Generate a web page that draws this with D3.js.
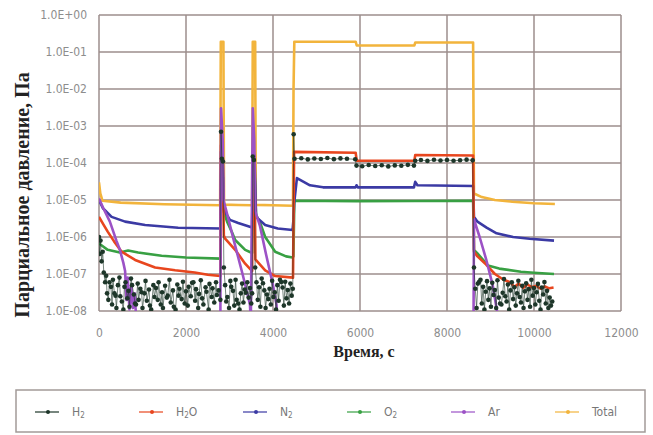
<!DOCTYPE html>
<html>
<head>
<meta charset="utf-8">
<script src="https://cdn.jsdelivr.net/npm/d3@7"></script>
<style>
  body { margin: 0; background: #fff; }
  svg { display: block; }
</style>
</head>
<body>
<svg id="chart" width="653" height="435"></svg>
<script>
// axis ticks
const xTicks = [0, 2000, 4000, 6000, 8000, 10000, 12000];
const yTicks = [1, 1e-1, 1e-2, 1e-3, 1e-4, 1e-5, 1e-6, 1e-7, 1e-8];
const yTickLabels = ["1.0E+00", "1.0E-01", "1.0E-02", "1.0E-03", "1.0E-04", "1.0E-05", "1.0E-06", "1.0E-07", "1.0E-08"];

// [time s, pressure Pa] (values under 1e-8 fall off the plot)
const totalData = [[0, 3e-5], [30, 1.5e-5], [80, 9.5e-6], [500, 8.5e-6], [1500, 7.7e-6], [2785, 7.2e-6],
  [2800, 0.19], [2860, 0.19], [2875, 7.5e-6], [3200, 7.3e-6], [3520, 7.2e-6],
  [3535, 0.19], [3590, 0.19], [3605, 7.4e-6], [4000, 7.2e-6], [4460, 7e-6],
  [4472, 1e-2], [4490, 0.19], [5900, 0.19], [5925, 0.15], [7250, 0.15], [7270, 0.18], [8600, 0.18],
  [8620, 1.5e-5], [8800, 1.2e-5], [9100, 1e-5], [9500, 9e-6], [10000, 8.2e-6], [10480, 7.8e-6]];

const h2oData = [[0, 3.5e-6], [100, 2.2e-6], [200, 1.4e-6], [350, 7.5e-7], [520, 4e-7], [830, 2.4e-7], [1290, 1.5e-7],
  [1750, 1.26e-7], [2200, 1.1e-7], [2500, 9.5e-8], [2790, 8.8e-8],
  [2805, 3e-4], [2840, 1.8e-4], [2870, 1.1e-6], [2900, 9e-7], [3130, 4.5e-7], [3360, 1.9e-7], [3520, 1.2e-7],
  [3540, 2e-4], [3575, 1.5e-4], [3595, 2.5e-7], [3820, 1.26e-7], [4050, 8.8e-8], [4460, 8e-8],
  [4485, 2e-4], [5900, 1.9e-4], [5925, 1.15e-4], [7250, 1.15e-4], [7270, 1.65e-4], [8600, 1.6e-4],
  [8620, 4e-7], [8700, 3e-7], [8900, 1.8e-7], [9100, 1e-7], [9300, 7e-8], [9450, 6e-8], [9550, 4.5e-8],
  [9650, 5.5e-8], [9750, 4.2e-8], [9850, 5.2e-8], [9950, 4.4e-8], [10050, 4.8e-8], [10150, 4e-8],
  [10250, 4.6e-8], [10350, 4.1e-8], [10450, 4.3e-8]];

const n2Data = [[0, 1e-5], [90, 6e-6], [290, 3.5e-6], [600, 2.6e-6], [1060, 2.1e-6], [1820, 1.78e-6], [2790, 1.7e-6],
  [2805, 2e-4], [2840, 1.5e-4], [2870, 5.4e-6], [3010, 2.9e-6], [3200, 2.4e-6], [3520, 1.8e-6],
  [3540, 2e-4], [3575, 1.5e-4], [3610, 3.5e-6], [3820, 2.1e-6], [4110, 1.7e-6], [4450, 1.55e-6],
  [4470, 2.9e-6], [4485, 8e-6], [4550, 3.9e-5], [4850, 2.5e-5], [5150, 2.2e-5], [5900, 2.2e-5], [5920, 2.5e-5],
  [5950, 2.2e-5], [7240, 2.2e-5], [7270, 3.1e-5], [7320, 2.5e-5], [8600, 2.4e-5],
  [8620, 3.5e-6], [8700, 2.6e-6], [8910, 1.8e-6], [9140, 1.26e-6], [9520, 1e-6], [9900, 9e-7], [10460, 8e-7]];

const o2Data = [[0, 6.7e-7], [200, 4.5e-7], [480, 3.8e-7], [670, 4.3e-7], [900, 3.8e-7], [1440, 3.1e-7], [2000, 2.8e-7], [2790, 2.6e-7],
  [2805, 5e-5], [2850, 4e-5], [2870, 4.8e-6], [2950, 2.5e-6], [3050, 1.4e-6], [3130, 8.3e-7], [3360, 4.5e-7], [3520, 3.7e-7],
  [3540, 5e-5], [3580, 4e-5], [3610, 4e-6], [3700, 2.5e-6], [3820, 1e-6], [3950, 6e-7], [4050, 4e-7], [4300, 3e-7], [4450, 2.8e-7],
  [4470, 3e-7], [4490, 9.5e-6], [5920, 9.3e-6], [7260, 9.4e-6], [8600, 9.5e-6],
  [8620, 4.5e-7], [8700, 3.6e-7], [8940, 1.7e-7], [9200, 1.4e-7], [9700, 1.15e-7], [10000, 1.08e-7], [10460, 1e-7]];

const arData = [[0, 1.1e-5], [100, 6e-6], [250, 2.6e-6], [400, 8e-7], [480, 4.5e-7], [560, 2e-7], [600, 1.2e-7],
  [630, 2e-8], [660, 8e-8], [700, 1.1e-8], [740, 5e-8], [780, 1.2e-8], [820, 3e-8], [860, 5e-9], [2790, 5e-9],
  [2805, 3e-3], [2845, 4e-4], [2862, 1e-5], [2950, 4e-6], [3100, 8e-7], [3300, 1e-7], [3470, 1.5e-8], [3490, 5e-9],
  [3535, 3e-3], [3570, 4e-4], [3590, 5e-6], [3700, 2e-6], [3850, 3e-7], [4000, 5e-8], [4080, 1.5e-8], [4100, 5e-9],
  [8610, 5e-9], [8620, 3e-6], [8750, 1e-6], [8900, 2.5e-7], [9050, 5e-8], [9150, 1e-8], [9170, 5e-9]];

const h2Data = [[0, 1e-6], [15, 3.5e-7], [35, 8e-7], [60, 2.2e-7], [85, 4e-7], [110, 1.1e-7], [140, 6e-8], [165, 9e-8],
  [185, 3e-8], [215, 2e-8], [240, 6e-8], [275, 4.5e-8], [300, 1.5e-8], [320, 7e-8], [355, 3e-8], [380, 2.6e-8],
  [400, 1.2e-8], [435, 5e-8], [470, 8e-8], [490, 2.5e-8], [525, 1.8e-8], [560, 1.1e-8], [585, 4.5e-8], [610, 6e-8],
  [650, 2.2e-8], [680, 3.5e-8], [700, 1.3e-8], [735, 7.5e-8], [760, 5e-8], [800, 2.8e-8], [830, 1.6e-8], [850, 1.5e-8],
  [890, 5.5e-8], [910, 2e-8], [950, 4e-8], [980, 3.2e-8], [1000, 1.2e-8], [1045, 3e-8], [1070, 6.5e-8], [1100, 1.9e-8],
  [1150, 3.8e-8], [1170, 1.4e-8], [1200, 1.1e-8], [1250, 5e-8], [1275, 2.4e-8], [1310, 4.2e-8], [1350, 2e-8],
  [1370, 6e-8], [1420, 1.5e-8], [1450, 3.2e-8], [1470, 1.2e-8], [1520, 4.8e-8], [1560, 2.3e-8], [1580, 2.6e-8],
  [1620, 7e-8], [1650, 1.7e-8], [1700, 3.6e-8], [1720, 1.3e-8], [1760, 1.1e-8], [1800, 5.2e-8], [1830, 2.6e-8],
  [1850, 4e-8], [1900, 2.1e-8], [1930, 6.2e-8], [1970, 1.6e-8], [2000, 3.4e-8], [2040, 1.4e-8], [2060, 4.5e-8],
  [2110, 2.5e-8], [2140, 5.8e-8], [2170, 6e-8], [2210, 1.9e-8], [2230, 3.9e-8], [2280, 1.2e-8], [2300, 2.9e-8],
  [2340, 6.8e-8], [2370, 2.2e-8], [2400, 1.5e-8], [2450, 4.4e-8], [2470, 3.3e-8], [2520, 1.1e-8], [2540, 5.4e-8],
  [2590, 2.4e-8], [2610, 4.1e-8], [2650, 1.7e-8], [2690, 6e-8], [2710, 2.7e-8], [2750, 3.6e-8], [2790, 2e-8],
  [2805, 7e-4], [2825, 1.3e-4], [2850, 1.1e-4], [2870, 1.5e-7],
  [2900, 5e-8], [2925, 1.8e-8], [2950, 2.4e-8], [2990, 1.2e-8], [3020, 6.5e-8], [3040, 4.5e-8], [3080, 3.5e-8],
  [3110, 1.4e-8], [3140, 7e-8], [3165, 2e-8], [3200, 1.6e-8], [3230, 1.1e-8], [3260, 3e-8], [3290, 5.5e-8],
  [3320, 1.7e-8], [3350, 3.8e-8], [3375, 3.1e-8], [3410, 6e-8], [3440, 2.3e-8], [3470, 4.2e-8], [3500, 1.6e-8], [3520, 3e-8],
  [3535, 1.5e-4], [3560, 1.2e-4], [3590, 1.5e-7],
  [3620, 6e-8], [3650, 2e-8], [3680, 4.4e-8], [3710, 1.3e-8], [3740, 7.5e-8], [3770, 5.6e-8], [3800, 3.6e-8],
  [3830, 1.2e-8], [3860, 2.8e-8], [3890, 2.1e-8], [3920, 4e-8], [3950, 1.5e-8], [3980, 6.6e-8], [4010, 2.4e-8],
  [4040, 3.2e-8], [4070, 1.1e-8], [4100, 5e-8], [4130, 1.9e-8], [4160, 7e-8], [4190, 6.1e-8], [4220, 4.3e-8],
  [4250, 1.4e-8], [4280, 6.2e-8], [4310, 2.2e-8], [4340, 3.7e-8], [4370, 1.6e-8], [4400, 5.5e-8], [4430, 2.6e-8], [4455, 4e-8],
  [4475, 6e-4], [4495, 1.3e-4], [4650, 1.35e-4], [4800, 1.25e-4], [4950, 1.32e-4], [5100, 1.28e-4], [5250, 1.36e-4],
  [5400, 1.27e-4], [5550, 1.33e-4], [5700, 1.3e-4], [5890, 1.26e-4], [5920, 8.5e-5], [6050, 8.2e-5], [6200, 8.8e-5],
  [6350, 8.3e-5], [6500, 8.7e-5], [6650, 8.1e-5], [6800, 8.6e-5], [6950, 8.4e-5], [7100, 8.9e-5], [7240, 8.5e-5],
  [7270, 1.15e-4], [7400, 1.2e-4], [7550, 1.14e-4], [7700, 1.22e-4], [7850, 1.17e-4], [8000, 1.21e-4], [8150, 1.15e-4],
  [8300, 1.19e-4], [8450, 1.23e-4], [8590, 1.18e-4],
  [8620, 1.5e-7], [8650, 4e-8], [8680, 1.2e-8], [8710, 5.5e-8], [8740, 6.2e-8], [8770, 7e-8], [8800, 1.6e-8],
  [8830, 4.5e-8], [8860, 1.1e-8], [8890, 3.3e-8], [8920, 6.4e-8], [8950, 2e-8], [8980, 4.1e-8], [9010, 1.3e-8],
  [9040, 5.8e-8], [9070, 2.7e-8], [9100, 3.7e-8], [9130, 1.2e-8], [9160, 6.8e-8], [9190, 2.3e-8], [9220, 1.6e-8],
  [9250, 1.5e-8], [9280, 3.1e-8], [9310, 7.3e-8], [9340, 2.5e-8], [9370, 1.8e-8], [9400, 5.2e-8], [9430, 1.1e-8],
  [9460, 3.6e-8], [9490, 6e-8], [9520, 2.1e-8], [9550, 4.4e-8], [9580, 1.4e-8], [9610, 3e-8], [9640, 6.6e-8],
  [9670, 2.4e-8], [9700, 1.7e-8], [9730, 4.8e-8], [9760, 1.2e-8], [9790, 3.4e-8], [9820, 5.6e-8], [9850, 2e-8],
  [9880, 3.9e-8], [9910, 1.3e-8], [9940, 7e-8], [9970, 2.6e-8], [10000, 4.2e-8], [10030, 1.5e-8], [10060, 3.2e-8],
  [10090, 5.4e-8], [10120, 1.9e-8], [10150, 1.1e-8], [10180, 4.3e-8], [10210, 2.8e-8], [10240, 6.1e-8],
  [10270, 1.6e-8], [10300, 3.5e-8], [10330, 1.2e-8], [10360, 2.3e-8], [10390, 1.4e-8], [10420, 1.8e-8]];

// legend order: H2, H2O, N2, O2, Ar, Total
const seriesNames = [["H", "2", ""], ["H", "2", "O"], ["N", "2", ""], ["O", "2", ""], ["Ar", "", ""], ["Total", "", ""]];
const seriesData = [h2Data, h2oData, n2Data, o2Data, arData, totalData];
const seriesColors = ["#1d3629", "#e8461e", "#3b3aa4", "#38a043", "#9c52c6", "#f2b43c"];
const drawOrder = [5, 3, 2, 1, 4, 0];

const svg = d3.select("#chart");
const plotLeft = 99, plotRight = 621, plotTop = 15, plotBottom = 311;

const x = d3.scaleLinear().domain([0, 12000]).range([plotLeft, plotRight]);
const y = d3.scaleLog().domain([1e-8, 1]).range([plotBottom, plotTop]);

// grid
const grid = svg.append("g");
grid.selectAll("line.h").data(yTicks).join("line")
  .attr("x1", plotLeft).attr("x2", plotRight)
  .attr("y1", d => y(d)).attr("y2", d => y(d))
  .attr("stroke", "#9d8e8c").attr("stroke-width", 1.5);
grid.selectAll("line.v").data(xTicks).join("line")
  .attr("x1", d => x(d)).attr("x2", d => x(d))
  .attr("y1", plotTop).attr("y2", plotBottom)
  .attr("stroke", "#9d8e8c").attr("stroke-width", 1.5);

// axes labels
const xAxis = svg.append("g")
  .attr("transform", `translate(0,${plotBottom + 14})`)
  .call(d3.axisBottom(x).tickValues(xTicks).tickSize(0).tickFormat(d3.format("d")));
const yAxis = svg.append("g")
  .attr("transform", `translate(${plotLeft - 9},0)`)
  .call(d3.axisLeft(y).tickValues(yTicks).tickSize(0).tickFormat((d, i) => yTickLabels[i]));
[xAxis, yAxis].forEach(a => {
  a.select(".domain").remove();
  a.selectAll("text")
    .attr("font-family", "DejaVu Sans Condensed")
    .attr("font-size", 12)
    .attr("fill", "#8d8d8d");
});

// clip
svg.append("clipPath").attr("id", "plot")
  .append("rect").attr("x", plotLeft).attr("y", plotTop - 5)
  .attr("width", plotRight - plotLeft).attr("height", plotBottom - plotTop + 5);

const line = d3.line().x(d => x(d[0])).y(d => y(d[1]));
const plot = svg.append("g").attr("clip-path", "url(#plot)");

drawOrder.forEach(i => {
  plot.append("path")
    .datum(seriesData[i])
    .attr("d", line)
    .attr("fill", "none")
    .attr("stroke", seriesColors[i])
    .attr("stroke-width", i === 0 ? 0.8 : 2.6)
    .attr("stroke-opacity", i === 0 ? 0.75 : 1)
    .attr("stroke-linejoin", "round");
});

// H2 markers
plot.append("g").selectAll("circle").data(h2Data).join("circle")
  .attr("cx", d => x(d[0])).attr("cy", d => y(d[1])).attr("r", 2.3)
  .attr("fill", seriesColors[0]);

// axis titles
svg.append("text")
  .attr("x", 364).attr("y", 357)
  .attr("text-anchor", "middle")
  .attr("font-family", "Liberation Serif")
  .attr("font-weight", "bold")
  .attr("font-size", 16)
  .attr("fill", "#222")
  .text("Время, с");

svg.append("text")
  .attr("transform", "translate(29,195) rotate(-90)")
  .attr("text-anchor", "middle")
  .attr("font-family", "Liberation Serif")
  .attr("font-weight", "bold")
  .attr("font-size", 20)
  .attr("fill", "#222")
  .text("Парциальное давление, Па");

// legend
svg.append("rect")
  .attr("x", 16).attr("y", 390).attr("width", 629).attr("height", 42)
  .attr("fill", "#fff").attr("stroke", "#a29a98").attr("stroke-width", 1.5);

const legendX = d3.scaleLinear().domain([0, 5]).range([35, 555]);
const item = svg.append("g").selectAll("g").data(seriesNames).join("g")
  .attr("transform", (d, i) => `translate(${legendX(i)},412)`);
item.append("line")
  .attr("x1", 0).attr("x2", 24)
  .attr("stroke", (d, i) => seriesColors[i]).attr("stroke-width", 1.2);
item.append("circle")
  .attr("cx", 13).attr("r", 2)
  .attr("fill", (d, i) => seriesColors[i]);
const lt = item.append("text")
  .attr("x", 37).attr("y", 4)
  .attr("font-family", "DejaVu Sans Condensed")
  .attr("font-size", 12)
  .attr("fill", "#777");
lt.append("tspan").text(d => d[0]);
lt.append("tspan").attr("font-size", 8).attr("dy", 2).text(d => d[1]);
lt.append("tspan").attr("dy", -2).text(d => d[2]);
</script>
</body>
</html>
